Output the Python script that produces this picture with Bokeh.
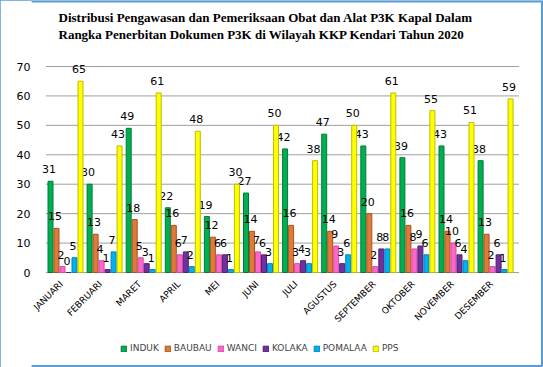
from math import pi
from bokeh.plotting import figure
from bokeh.models import (ColumnDataSource, Range1d, FixedTicker,
                          Legend, LegendItem)
from bokeh.transform import dodge
from bokeh.core.properties import value
from bokeh.embed import file_html
from bokeh.resources import INLINE

months = ["JANUARI", "FEBRUARI", "MARET", "APRIL", "MEI", "JUNI", "JULI",
          "AGUSTUS", "SEPTEMBER", "OKTOBER", "NOVEMBER", "DESEMBER"]
series_names = ["INDUK", "BAUBAU", "WANCI", "KOLAKA", "POMALAA", "PPS"]
induk = [31, 30, 49, 22, 19, 27, 42, 47, 43, 39, 43, 38]
baubau = [15, 13, 18, 16, 12, 14, 16, 14, 20, 16, 14, 13]
wanci = [2, 4, 5, 6, 6, 7, 3, 9, 2, 8, 10, 2]
kolaka = [0, 1, 3, 7, 6, 6, 4, 3, 8, 9, 6, 6]
pomalaa = [5, 7, 1, 2, 1, 3, 3, 6, 8, 6, 4, 1]
pps = [65, 43, 61, 48, 30, 50, 38, 50, 61, 55, 51, 59]
y_ticks = [0, 10, 20, 30, 40, 50, 60, 70]
title_lines = ["Distribusi Pengawasan dan Pemeriksaan Obat dan Alat P3K Kapal Dalam",
               "Rangka Penerbitan Dokumen P3K di Wilayah KKP Kendari Tahun 2020"]

all_values = [induk, baubau, wanci, kolaka, pomalaa, pps]
fills = ["#00B050", "#E07A3A", "#FF66CC", "#7030A0", "#00B0F0", "#FFFF00"]
edges = ["#007A38", "#A9521F", "#D04AA3", "#4E1F73", "#0085B8", "#BDBD00"]

# ---- layout (pixels) ----
W, H = 543, 367
frame_left = 31
top70_px, zero_px = 66, 272
cat_px = 39.1            # pixels per month group
first_center_px = 65     # pixel position of the first month group
title_left_px = 58
title_rows_px = [17, 34]

px_per_unit = (zero_px - top70_px) / 70.0
x_start = -(first_center_px - frame_left) / cat_px
x_end = x_start + (W - frame_left) / cat_px
y_min = -(H - zero_px) / px_per_unit
y_max = 70 + top70_px / px_per_unit

idx = list(range(len(months)))

p = figure(width=W, height=H, output_backend="svg", toolbar_location=None,
           x_range=Range1d(x_start, x_end), y_range=Range1d(y_min, y_max),
           min_border_left=frame_left, min_border_right=0, min_border_top=0,
           min_border_bottom=0)
p.title = None
p.outline_line_color = None
p.styles = {"outline": "2px solid #5B9BD5", "outline-offset": "-2px"}

# chart-area border (top, right, bottom edges of the canvas)
bx0 = x_start
bx1 = x_end - 1.5 / cat_px
by0 = y_min + 1.5 / px_per_unit
by1 = y_max - 1.0 / px_per_unit
p.multi_line(xs=[[bx0, bx1, bx1, bx0]], ys=[[by1, by1, by0, by0]],
             line_color="#5B9BD5", line_width=2)

# title (two lines, bold serif)
tsrc = ColumnDataSource(dict(
    x=[x_start + (title_left_px - frame_left) / cat_px] * 2,
    y=[70 + (top70_px - r) / px_per_unit for r in title_rows_px],
    txt=title_lines))
p.text(x="x", y="y", text="txt", source=tsrc,
       text_font=value("Liberation Serif"), text_font_size="13px",
       text_font_style="bold", text_align="left", text_baseline="middle",
       text_color="#000000")

# horizontal gridlines spanning the month groups
gsrc = ColumnDataSource(dict(y=y_ticks))
p.segment(x0=-0.5, x1=len(months) - 0.4, y0="y", y1="y", source=gsrc,
          line_color="#A0A0A0", line_width=1)

pitch = 6 / cat_px
width = 5 / cat_px
items = []
for k, (name, vals) in enumerate(zip(series_names, all_values)):
    off = (k - 2.5) * pitch
    src = ColumnDataSource(dict(i=idx, val=vals, lbl=[str(v) for v in vals]))
    r = p.vbar(x=dodge("i", off), top="val", width=width,
               source=src, fill_color=fills[k], line_color=edges[k], line_width=1)
    p.text(x=dodge("i", off), y="val", text="lbl", source=src,
           text_font=value("DejaVu Sans"), text_font_size="11px",
           text_align="center", text_baseline="bottom", x_offset=-1.5, y_offset=-8,
           text_color="#000000")
    items.append(LegendItem(label=name, renderers=[r]))

# month labels under the zero line
msrc = ColumnDataSource(dict(i=idx, month=months, base=[0] * len(months)))
p.text(x="i", y="base", text="month", source=msrc, angle=pi / 4,
       text_font=value("DejaVu Sans"), text_font_size="9px",
       text_align="right", text_baseline="middle", x_offset=-4, y_offset=10,
       text_color="#000000")

p.xaxis.visible = False
p.xgrid.grid_line_color = None
p.ygrid.grid_line_color = None
p.yaxis.ticker = FixedTicker(ticks=y_ticks)
p.yaxis.axis_line_color = None
p.yaxis.major_tick_line_color = None
p.yaxis.minor_tick_line_color = None
p.yaxis.major_label_standoff = -5
p.yaxis.major_label_text_font = "DejaVu Sans"
p.yaxis.major_label_text_font_size = "11px"
p.yaxis.major_label_text_color = "#000000"

legend = Legend(items=items, orientation="horizontal", location=(89, 14),
                label_text_font="DejaVu Sans", label_text_font_size="9px",
                glyph_width=7, glyph_height=7, label_standoff=3, spacing=5,
                border_line_color=None, background_fill_alpha=0, margin=0,
                padding=0, label_height=9)
p.add_layout(legend, "center")

open("out.html", "w").write(file_html(p, INLINE))
